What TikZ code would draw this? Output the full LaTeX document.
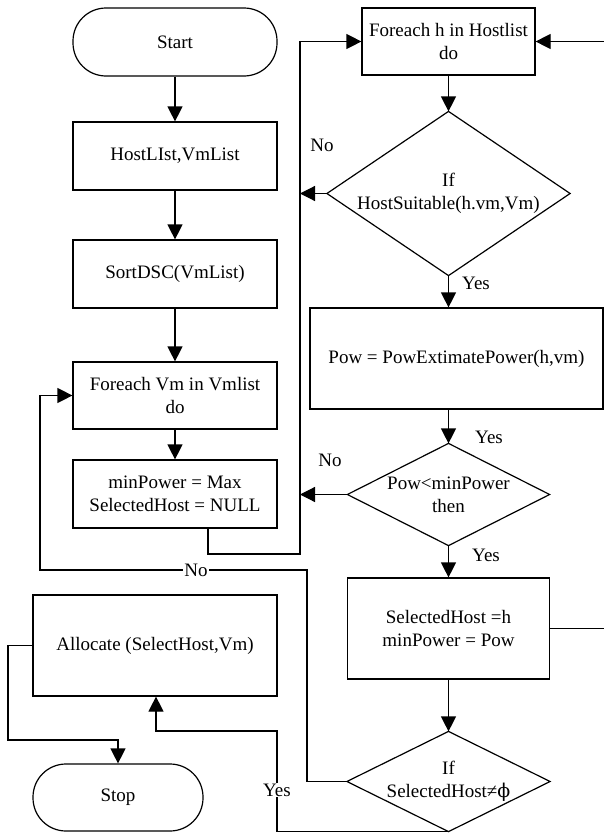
\documentclass[tikz,border=0pt]{standalone}
\usepackage{fontspec}
\setmainfont{Liberation Serif}
\newfontfamily\phifont{DejaVu Serif}
\usetikzlibrary{arrows.meta}
\begin{document}
\begin{tikzpicture}[x=1pt,y=-1pt,
  font=\fontsize{19}{23}\selectfont,
  line width=1.2pt,
  box/.style={draw, inner sep=0pt, align=center},
  term/.style={box, rounded corners=33pt},
  dia/.style={inner sep=0pt, align=center},
  lbl/.style={inner sep=1pt},
  arr/.style={-{Triangle[length=15pt,width=15pt]}}]
\useasboundingbox (0,0) rectangle (604,835);
\clip (0,0) rectangle (604,835);

% left column
\node[term, minimum width=204pt, minimum height=68pt] (start) at (175,42) {Start};
\node[box, minimum width=204pt, minimum height=68pt] (hl) at (175,156) {HostLIst,VmList};
\node[box, minimum width=204pt, minimum height=68pt] (sort) at (175,274) {SortDSC(VmList)};
\node[box, minimum width=204pt, minimum height=67pt] (fvm) at (175,395.5) {Foreach Vm in Vmlist\\do};
\node[box, minimum width=204pt, minimum height=68pt] (minp) at (175,494) {minPower = Max\\SelectedHost = NULL};
\node[box, minimum width=244pt, minimum height=101pt] (alloc) at (155,645.5) {Allocate (SelectHost,Vm)};
\node[term, minimum width=170pt, minimum height=67pt] (stop) at (118,797.5) {Stop};

% right column
\node[box, minimum width=173pt, minimum height=67pt] (fh) at (448.5,41.5) {Foreach h in Hostlist\\do};
\node[dia, minimum width=242pt, minimum height=163pt] (d1) at (448.5,193.5) {If\\HostSuitable(h.vm,Vm)};
\node[box, minimum width=293pt, minimum height=101pt] (pow) at (456.5,358.5) {Pow = PowExtimatePower(h,vm)};
\node[dia, minimum width=201pt, minimum height=101pt] (d2) at (448.5,494.5) {Pow<minPower\\then};
\node[box, minimum width=202pt, minimum height=101pt] (sel) at (448.5,628.5) {SelectedHost =h\\minPower = Pow};
\node[dia, minimum width=202pt, minimum height=99pt] (d3) at (448.5,781.5) {If\\SelectedHost≠{\phifont ϕ}};

\foreach \d in {d1,d2,d3}
  \draw (\d.north) -- (\d.east) -- (\d.south) -- (\d.west) -- cycle;

% rail coordinates
\coordinate (railA) at (300,554);
\coordinate (railB) at (307,570);
\coordinate (railL) at (40,570);
\coordinate (railY) at (277,731);
\coordinate (railS) at (8,740);
\coordinate (railR) at (612,629);

% straight connectors
\draw[arr] (start) -- (hl);
\draw[arr] (hl) -- (sort);
\draw[arr] (sort) -- (fvm);
\draw[arr] (fvm) -- (minp);
\draw[arr] (fh) -- (d1);
\draw[arr] (d1.south) -- (d1.south |- pow.north);
\draw[arr] (d1.south |- pow.south) -- (d2.north);
\draw[arr] (d2) -- (sel);
\draw[arr] (sel) -- (d3);

% loops
\draw[arr] ([xshift=33pt]minp.south) |- (railA) |- (fh.west);
\draw[arr] (d1.west) -- (d1.west -| railA);
\draw[arr] (d2.west) -- (d2.west -| railA);
\draw[arr] (sel.east) -- (sel.east -| railR) |- (fh.east);
\draw[arr] (d3.west) -| (railB) -- node[lbl, fill=white, pos=0.416] (nolbl) {No} (railL) |- (fvm.west);
\draw[arr] (d3.south) -| (railY) -| ([xshift=1pt]alloc.south);
\node[lbl, fill=white] (yes4) at (277,790) {Yes};
\draw[arr] (alloc.west) -| (railS) -| (stop.north);

% labels
\node[lbl] (no1) at (322,145) {No};
\node[lbl] (yes1) at (476,283) {Yes};
\node[lbl] (yes2) at (489,437) {Yes};
\node[lbl] (no2) at (330,460) {No};
\node[lbl] (yes3) at (486,555) {Yes};
\end{tikzpicture}
\end{document}
